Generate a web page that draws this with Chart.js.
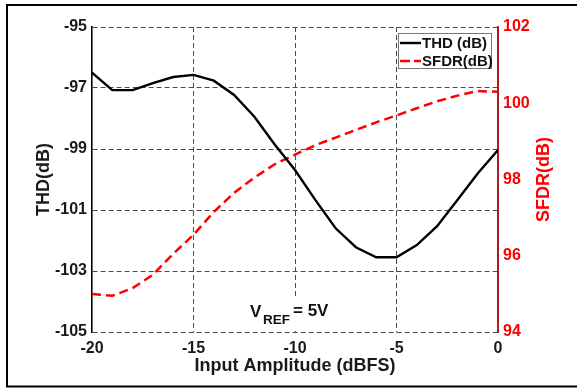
<!DOCTYPE html>
<html>
<head>
<meta charset="utf-8">
<script src="https://cdn.jsdelivr.net/npm/chart.js@4.4.0/dist/chart.umd.min.js"></script>
<style>
  html, body { margin: 0; padding: 0; background: #fff; }
  canvas { display: block; }
</style>
</head>
<body>
<canvas id="thdChart" width="577" height="388"></canvas>
<script>
// input amplitude in dBFS, 1 dB steps
let inputAmp = [-20, -19, -18, -17, -16, -15, -14, -13, -12, -11, -10, -9, -8, -7, -6, -5, -4, -3, -2, -1, 0];
let thd = [-96.5, -97.07, -97.07, -96.84, -96.64, -96.57, -96.76, -97.23, -97.94, -98.85, -99.69, -100.67, -101.6, -102.22, -102.55, -102.55, -102.15, -101.53, -100.67, -99.8, -99.03];
let sfdr = [95.0, 94.95, 95.15, 95.5, 96.05, 96.55, 97.15, 97.65, 98.05, 98.4, 98.65, 98.9, 99.1, 99.3, 99.5, 99.68, 99.87, 100.05, 100.2, 100.32, 100.3];

let ampTicks = [-20, -15, -10, -5, 0];
let thdTicks = [-105, -103, -101, -99, -97, -95];
let sfdrTicks = [94, 96, 98, 100, 102];

let tickFont = { family: 'Liberation Sans, Arial, sans-serif', size: 16, weight: 'bold' };
let gridColor = '#4a4a4a';
let gridDash = [5, 3];

function toPoints(ys) {
  return inputAmp.map(function (x, i) { return { x: x, y: ys[i] }; });
}

// titles, legend, frame and the VREF note
var decor = {
  id: 'decor',
  afterDraw: function (chart) {
    var ctx = chart.ctx;
    var a = chart.chartArea;
    ctx.save();

    // outer frame
    ctx.strokeStyle = '#000';
    ctx.lineWidth = 2;
    ctx.beginPath();
    ctx.moveTo(577, 5); ctx.lineTo(7, 5); ctx.lineTo(7, 386.5); ctx.lineTo(577, 386.5);
    ctx.stroke();

    // axis titles
    ctx.font = 'bold 18px Liberation Sans, Arial, sans-serif';
    ctx.fillStyle = '#1a1a1a';
    ctx.textAlign = 'center';
    ctx.textBaseline = 'alphabetic';
    ctx.fillText('Input Amplitude (dBFS)', (a.left + a.right) / 2, 371);

    ctx.textBaseline = 'middle';
    ctx.save();
    ctx.translate(44, (a.top + a.bottom) / 2);
    ctx.rotate(-Math.PI / 2);
    ctx.fillText('THD(dB)', 0, 0);
    ctx.restore();

    ctx.save();
    ctx.fillStyle = '#ff0000';
    ctx.translate(544, (a.top + a.bottom) / 2);
    ctx.rotate(-Math.PI / 2);
    ctx.fillText('SFDR(dB)', 0, 0);
    ctx.restore();

    // VREF = 5V note
    ctx.fillStyle = '#fff';
    ctx.fillRect(248, 298, 84, a.bottom - 299.5);
    ctx.fillStyle = '#111';
    ctx.textAlign = 'left';
    ctx.textBaseline = 'alphabetic';
    ctx.font = 'bold 17px Liberation Sans, Arial, sans-serif';
    ctx.fillText('V', 250, 317);
    ctx.font = 'bold 13.5px Liberation Sans, Arial, sans-serif';
    ctx.fillText('REF', 263, 323.5);
    ctx.font = 'bold 17px Liberation Sans, Arial, sans-serif';
    ctx.fillText('= 5V', 293, 315.5);

    // legend
    ctx.fillStyle = '#fff';
    ctx.fillRect(398, 33, 94, 36);
    ctx.strokeStyle = '#777';
    ctx.lineWidth = 1;
    ctx.strokeRect(398.5, 33.5, 93, 35);

    ctx.strokeStyle = '#000';
    ctx.lineWidth = 2.4;
    ctx.beginPath(); ctx.moveTo(400, 43); ctx.lineTo(421, 43); ctx.stroke();
    ctx.strokeStyle = '#ff0000';
    ctx.lineWidth = 2.5;
    ctx.setLineDash([10, 4]);
    ctx.beginPath(); ctx.moveTo(400, 61); ctx.lineTo(421, 61); ctx.stroke();
    ctx.setLineDash([]);

    ctx.font = 'bold 15px Liberation Sans, Arial, sans-serif';
    ctx.fillStyle = '#111';
    ctx.textBaseline = 'middle';
    ctx.fillText('THD (dB)', 422, 43.5);
    ctx.fillText('SFDR(dB)', 422, 61.5);

    ctx.restore();
  }
};

var ctx = document.getElementById('thdChart').getContext('2d');
var chart = new Chart(ctx, {
  type: 'line',
  data: {
    datasets: [{
      label: 'THD (dB)',
      data: toPoints(thd),
      yAxisID: 'y',
      borderColor: '#000',
      backgroundColor: 'transparent',
      borderWidth: 2.4,
      pointRadius: 0,
      tension: 0
    }, {
      label: 'SFDR(dB)',
      data: toPoints(sfdr),
      yAxisID: 'y1',
      borderColor: '#ff0000',
      backgroundColor: 'transparent',
      borderWidth: 2.5,
      borderDash: [9, 5],
      pointRadius: 0,
      tension: 0
    }]
  },
  options: {
    responsive: false,
    animation: false,
    layout: { padding: { top: 27, left: 0, right: 0, bottom: 0 } },
    plugins: {
      legend: { display: false },
      tooltip: { enabled: false }
    },
    scales: {
      x: {
        type: 'linear',
        min: -20,
        max: 0,
        afterBuildTicks: function (axis) {
          axis.ticks = ampTicks.map(function (v) { return { value: v }; });
        },
        afterFit: function (axis) { axis.height = 56; },
        grid: {
          color: function (c) {
            return (c.tick && (c.tick.value === -20 || c.tick.value === 0)) ? 'transparent' : gridColor;
          },
          lineWidth: 1,
          drawTicks: false
        },
        border: { display: false, dash: gridDash },
        ticks: { color: '#1a1a1a', font: tickFont, padding: 7, maxRotation: 0 }
      },
      y: {
        position: 'left',
        min: -105,
        max: -95,
        afterBuildTicks: function (axis) {
          axis.ticks = thdTicks.map(function (v) { return { value: v }; });
        },
        afterFit: function (axis) { axis.width = 92; },
        grid: { color: gridColor, lineWidth: 1, drawTicks: false },
        border: { display: true, color: '#000', width: 1.6, dash: gridDash },
        ticks: { color: '#1a1a1a', font: tickFont, padding: 5 }
      },
      y1: {
        position: 'right',
        min: 94,
        max: 102,
        afterBuildTicks: function (axis) {
          axis.ticks = sfdrTicks.map(function (v) { return { value: v }; });
        },
        afterFit: function (axis) { axis.width = 79; },
        grid: { drawOnChartArea: false, drawTicks: false },
        border: { display: true, color: '#b01c1c', width: 2 },
        ticks: { color: '#ff0000', font: tickFont, padding: 5 }
      }
    }
  },
  plugins: [decor]
});
</script>
</body>
</html>
